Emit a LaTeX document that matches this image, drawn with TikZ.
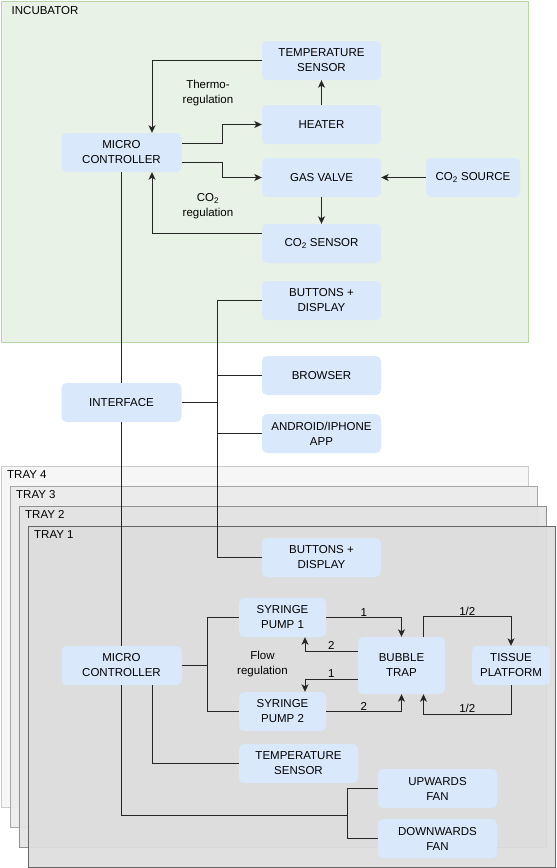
\documentclass[tikz,border=0pt]{standalone}
\usepackage{fontspec}
\setmainfont{Liberation Sans}
\usetikzlibrary{arrows.meta}
\definecolor{boxblue}{RGB}{218,232,252}
\definecolor{incfill}{RGB}{233,242,230}
\definecolor{incline}{RGB}{179,217,160}

\begin{document}
\begin{tikzpicture}[x=1pt,y=-1pt,font=\fontsize{11.5}{15}\selectfont]
\tikzstyle{block} = [rectangle, fill=boxblue, rounded corners=5pt, align=center,
minimum width=119pt, minimum height=39pt, inner sep=1pt]
\tikzstyle{line} = [draw=black!85, line width=0.9pt]
\tikzstyle{arrow} = [line, -{Stealth[length=7.5pt,width=7pt,inset=2pt]}]
\tikzstyle{lbl} = [inner sep=1pt, align=center]

\useasboundingbox (0,0) rectangle (557,868);

% incubator
\draw[draw=incline, fill=incfill, line width=0.9pt] (1,1) rectangle (528.5,342.5);
\node[lbl, anchor=west] (incub) at (10.5,11) {INCUBATOR};

% trays, back to front
\foreach \n/\dx/\edge/\shade in {4/0/20/4, 3/1/35/8, 2/2/43/11, 1/3/60/13.5}
{
\draw[draw=black!\edge, line width=0.9pt, fill=black!\shade, fill opacity=0.92]
  ({1+9*\dx},{466+20*\dx}) rectangle ({528+9*\dx},{807.5+20*\dx});
\node[lbl, anchor=west] (tray\n) at ({6+9*\dx},{474.5+20*\dx}) {TRAY \n};
}

% incubator blocks
\node [block] (tsens) at (321.5,60.5) {TEMPERATURE\\SENSOR};
\node [block] (heater) at (321.5,124.5) {HEATER};
\node [block, minimum width=120pt] (mc) at (121.5,152.5) {MICRO\\CONTROLLER};
\node [block] (valve) at (321.5,177.5) {GAS VALVE};
\node [block, minimum width=94pt] (cosource) at (473,177.5) {CO\textsubscript{2} SOURCE};
\node [block] (cosensor) at (321.5,243.5) {CO\textsubscript{2} SENSOR};
\node [block] (btnA) at (321.5,300.5) {BUTTONS +\\DISPLAY};
\node [lbl] (thermo) at (208,93) {Thermo-\\regulation};
\node [lbl] (coreg) at (208,206) {CO\textsubscript{2}\\regulation};

% interface
\node [block, minimum width=120pt] (iface) at (121.5,402.5) {INTERFACE};
\node [block] (browser) at (321.5,375.5) {BROWSER};
\node [block] (app) at (321.5,433.5) {ANDROID/IPHONE\\APP};

% tray blocks
\node [block] (btnB) at (321.5,557.5) {BUTTONS +\\DISPLAY};
\node [block, minimum width=120pt] (mct) at (121.5,665.5) {MICRO\\CONTROLLER};
\node [block, minimum width=87pt] (sp1) at (282.5,617.5) {SYRINGE\\PUMP 1};
\node [block, minimum width=87pt] (sp2) at (282.5,711.5) {SYRINGE\\PUMP 2};
\node [block, minimum width=87pt, minimum height=57pt] (trap) at (401.5,665.5) {BUBBLE\\TRAP};
\node [block, minimum width=78pt] (tissue) at (511,665.5) {TISSUE\\PLATFORM};
\node [block] (tsenst) at (298.5,763.5) {TEMPERATURE\\SENSOR};
\node [block] (upfan) at (437.5,788.5) {UPWARDS\\FAN};
\node [block] (downfan) at (437.5,838.5) {DOWNWARDS\\FAN};
\node [lbl] (flow) at (262.5,664) {Flow\\regulation};

% incubator connectors
\draw[arrow] (tsens.west) -| ([xshift=30.5pt]mc.north);
\draw[arrow] ([yshift=9.5pt]mc.east) -- ++(41,0) |- (heater.west);
\draw[arrow] ([yshift=-9.5pt]mc.east) -- ++(41,0) |- (valve.west);
\draw[arrow] (heater.north) -- (tsens.south);
\draw[arrow] (cosource.west) -- (valve.east);
\draw[arrow] (valve.south) -- (cosensor.north);
\draw[arrow] ([yshift=10pt]cosensor.west) -| ([xshift=30.5pt]mc.south);

% interface connectors
\draw[line] (mc.south) -- (iface.north);
\draw[line] (iface.south) -- (mct.north);
\draw[line] (iface.east) -- ++(36,0) coordinate (bus);
\draw[line] (btnA.west) -| (bus) |- (btnB.west);
\draw[line] (bus) |- (browser.west);
\draw[line] (bus) |- (app.west);

% tray connectors
\draw[line] (mct.east) -- ++(26,0) coordinate (split);
\draw[line] (sp1.west) -| (split) |- (sp2.west);
\draw[arrow] (sp1.east) -| node[lbl, pos=0.25, above] (f1) {1} (trap.north);
\draw[arrow] ([yshift=14.5pt]trap.west) -| node[lbl, pos=0.25, above] (r1) {2} ([xshift=22.5pt]sp1.south);
\draw[arrow] ([yshift=-13.5pt]trap.west) -| node[lbl, pos=0.25, above] (r2) {1} ([xshift=22.5pt]sp2.north);
\draw[arrow] (sp2.east) -| node[lbl, pos=0.25, above] (f2) {2} (trap.south);
\draw[arrow] ([xshift=22pt]trap.north) -- ++(0,-20) -| node[lbl, pos=0.25, above] (h1) {1/2} (tissue.north);
\draw[arrow] (tissue.south) -- ++(0,29) -| node[lbl, pos=0.25, above] (h2) {1/2} ([xshift=22pt]trap.south);
\draw[line] ([xshift=30.5pt]mct.south) |- (tsenst.west);
\coordinate (fanbus) at (347.5,815);
\draw[line] (mct.south) |- (fanbus);
\draw[line] (upfan.west) -| (fanbus) |- (downfan.west);
\end{tikzpicture}
\end{document}
